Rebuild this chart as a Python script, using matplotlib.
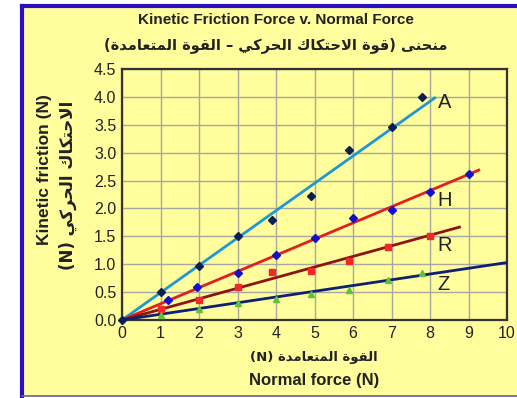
import matplotlib.pyplot as plt
from matplotlib.patches import Rectangle

# data
a_x = [1, 2, 3, 3.9, 4.9, 5.9, 7, 7.8]
a_y = [0.5, 0.96, 1.5, 1.8, 2.23, 3.05, 3.46, 4.0]
h_x = [1.2, 1.95, 3, 4, 5, 6, 7, 8, 9]
h_y = [0.35, 0.6, 0.84, 1.16, 1.47, 1.83, 1.97, 2.3, 2.62]
r_x = [1, 2, 3, 3.9, 4.9, 5.9, 6.9, 8]
r_y = [0.2, 0.35, 0.59, 0.86, 0.88, 1.06, 1.31, 1.51]
z_x = [1, 2, 3, 4, 4.9, 5.9, 6.9, 7.8]
z_y = [0.09, 0.2, 0.3, 0.37, 0.47, 0.54, 0.72, 0.85]

# best-fit lines: (slope, end x)
fits = {"A": (0.49, 8.15), "H": (0.29, 9.3), "R": (0.19, 8.8), "Z": (0.103, 10.0)}
label_pos = {"A": 3.9, "H": 2.15, "R": 1.34, "Z": 0.63}

x_ticks = list(range(0, 11))
y_ticks = [0.0, 0.5, 1.0, 1.5, 2.0, 2.5, 3.0, 3.5, 4.0, 4.5]

title_en = "Kinetic Friction Force v. Normal Force"
title_ar = "منحنى (قوة الاحتكاك الحركي – القوة المتعامدة)"
ylabel_en = "Kinetic friction (N)"
ylabel_ar = "الاحتكاك الحركي (N)"
xlabel_ar = "القوة المتعامدة (N)"
xlabel_en = "Normal force (N)"

# arabic presentation forms: isolated, final, initial, medial
FORMS = {
    "ا": (0xFE8D, 0xFE8E, None, None),
    "ت": (0xFE95, 0xFE96, 0xFE97, 0xFE98),
    "ح": (0xFEA1, 0xFEA2, 0xFEA3, 0xFEA4),
    "د": (0xFEA9, 0xFEAA, None, None),
    "ر": (0xFEAD, 0xFEAE, None, None),
    "ع": (0xFEC9, 0xFECA, 0xFECB, 0xFECC),
    "ق": (0xFED5, 0xFED6, 0xFED7, 0xFED8),
    "ك": (0xFED9, 0xFEDA, 0xFEDB, 0xFEDC),
    "ل": (0xFEDD, 0xFEDE, 0xFEDF, 0xFEE0),
    "م": (0xFEE1, 0xFEE2, 0xFEE3, 0xFEE4),
    "ن": (0xFEE5, 0xFEE6, 0xFEE7, 0xFEE8),
    "ة": (0xFE93, 0xFE94, None, None),
    "و": (0xFEED, 0xFEEE, None, None),
    "ى": (0xFEEF, 0xFEF0, None, None),
    "ي": (0xFEF1, 0xFEF2, 0xFEF3, 0xFEF4),
}


def joins_left(c):
    return c in FORMS and FORMS[c][2] is not None


def shape(text):
    out = []
    i = 0
    n = len(text)
    while i < n:
        c = text[i]
        if c not in FORMS:
            out.append(c)
            i += 1
            continue
        prev = text[i - 1] if i > 0 else ""
        from_prev = joins_left(prev)
        if c == "ل" and i + 1 < n and text[i + 1] == "ا":
            out.append(chr(0xFEFC if from_prev else 0xFEFB))
            i += 2
            continue
        nxt = text[i + 1] if i + 1 < n else ""
        to_next = joins_left(c) and nxt in FORMS
        iso, fin, ini, med = FORMS[c]
        if from_prev and to_next:
            out.append(chr(med))
        elif from_prev:
            out.append(chr(fin))
        elif to_next:
            out.append(chr(ini))
        else:
            out.append(chr(iso))
        i += 1
    vis = "".join(reversed(out))
    return vis.translate(str.maketrans("()", ")("))


def main():
    yellow = "#fffd9c"
    fig = plt.figure(figsize=(5.17, 3.98), dpi=100)
    fig.patch.set_facecolor("white")
    fig.patches.append(Rectangle((22 / 517, 0.003), 1, 1 - 6 / 398 - 0.003,
                                 transform=fig.transFigure, facecolor=yellow,
                                 edgecolor="none", zorder=-5))
    fig.add_artist(plt.Line2D([22 / 517, 22 / 517], [0.003, 1 - 6 / 398],
                              transform=fig.transFigure, color="#2a0fc0", lw=3))
    fig.add_artist(plt.Line2D([22 / 517, 1], [1 - 6 / 398, 1 - 6 / 398],
                              transform=fig.transFigure, color="#2a0fc0", lw=3))
    fig.add_artist(plt.Line2D([22 / 517, 1], [0.004, 0.004],
                              transform=fig.transFigure, color="#6a5ab0", lw=1.2))

    ax = fig.add_axes([122 / 517, 1 - 320 / 398, 385 / 517, 251 / 398])
    ax.set_facecolor(yellow)
    ax.set_xlim(0, 10)
    ax.set_ylim(0, 4.5)
    ax.set_xticks(x_ticks)
    ax.set_yticks(y_ticks)
    ax.set_yticklabels([f"{v:.1f}" for v in y_ticks])
    ax.tick_params(length=0, labelsize=11.5, colors="#222222", pad=4)
    for lab in ax.get_xticklabels() + ax.get_yticklabels():
        lab.set_family("Liberation Sans")
    ax.grid(True, color="#a8a8a0", lw=1)
    ax.set_axisbelow(True)
    for s in ax.spines.values():
        s.set_color("#333333")
        s.set_linewidth(1.6)

    colors = {"A": "#1e98d4", "H": "#e02020", "R": "#8e1414", "Z": "#0e2070"}
    for key, (m, xe) in fits.items():
        ax.plot([0, xe], [0, m * xe], color=colors[key], lw=2, zorder=3,
                solid_capstyle="butt")
        ax.text(8.2, label_pos[key], key, fontsize=14.5, color="#222222",
                va="center", ha="left", zorder=5, family="Liberation Sans")

    ax.plot(a_x, a_y, "D", color="#0b2050", ms=4, zorder=4, lw=0)
    ax.plot(h_x, h_y, "D", color="#1010d0", ms=4.5, zorder=4, lw=0)
    ax.plot(r_x, r_y, "s", color="#f02828", ms=4.5, zorder=4, lw=0)
    ax.plot(z_x, z_y, "^", color="#60c040", ms=4, zorder=4, lw=0)
    ax.plot([0], [0], "D", color="#0b2050", ms=4, zorder=5, clip_on=False)

    fig.text(0.5 + 22 / 517 / 2 + 0.012, 1 - 20 / 398, title_en, ha="center",
             va="center", fontsize=11, fontweight="bold", color="#222222",
             family="Liberation Sans")
    fig.text(0.5 + 22 / 517 / 2 + 0.012, 1 - 45 / 398, shape(title_ar),
             ha="center", va="center", fontsize=10.5, fontweight="bold",
             color="#222222", family="DejaVu Sans")

    fig.text(314 / 517, 1 - 357 / 398, shape(xlabel_ar), ha="center",
             va="center", fontsize=9.5, fontweight="bold", color="#222222",
             family="DejaVu Sans")
    fig.text(314 / 517, 1 - 380 / 398, xlabel_en, ha="center", va="center",
             fontsize=12, fontweight="bold", color="#222222",
             family="Liberation Sans")

    fig.text(45 / 517, 1 - 170 / 398, ylabel_en, ha="center", va="center",
             rotation=90, fontsize=12.5, fontweight="bold", color="#222222",
             family="Liberation Sans")
    fig.text(68 / 517, 1 - 185 / 398, shape(ylabel_ar), ha="center",
             va="center", rotation=90, fontsize=12, fontweight="bold",
             color="#222222", family="DejaVu Sans")

    plt.savefig("out.png", dpi=100)


if __name__ == "__main__":
    main()
